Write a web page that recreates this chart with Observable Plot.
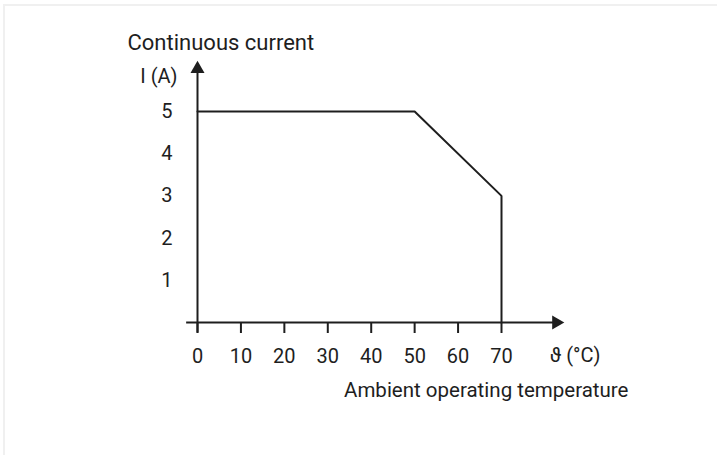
<!DOCTYPE html>
<html>
<head>
<meta charset="utf-8">
<script src="https://cdn.jsdelivr.net/npm/d3@7"></script>
<script src="https://cdn.jsdelivr.net/npm/@observablehq/plot@0.6"></script>
<style>
  html, body { margin: 0; padding: 0; background: #fff; }
  #wrap { position: relative; width: 717px; height: 455px; overflow: hidden; }
  #edge { position: absolute; left: 3px; top: 4px; right: 0; bottom: 0; border-top: 2px solid #f0f0f0; border-left: 2px solid #f0f0f0; pointer-events: none; }
  svg { font-family: Roboto, "Liberation Sans", sans-serif; }
</style>
</head>
<body>
<div id="wrap"><div id="edge"></div></div>
<script>
// Derating curve: continuous current vs ambient temperature
const temperature = [0, 50, 70, 70];
const current     = [5, 5, 3, 0];
const xTicks = [0, 10, 20, 30, 40, 50, 60, 70];
const yTicks = [1, 2, 3, 4, 5];
const xAxisExtent = [-2.5, 84.5];
const yAxisExtent = [-0.25, 6.15];
const yTitle = "Continuous current";
const yUnit = "I (A)";
const xUnit = "ϑ (°C)";
const xTitle = "Ambient operating temperature";

const curve = temperature.map((t, i) => ({t, i: current[i]}));
const ink = "#1e1e1e";
const fs = 20;

const chart = Plot.plot({
  width: 717,
  height: 455,
  marginLeft: 197,
  marginRight: 216,
  marginTop: 111,
  marginBottom: 133,
  style: {fontFamily: "Roboto, 'Liberation Sans', sans-serif", fontSize: fs + "px", color: ink, background: "transparent", overflow: "visible"},
  x: {domain: [0, 70]},
  y: {domain: [0, 5]},
  marks: [
    // axis lines
    Plot.ruleY([0], {x1: xAxisExtent[0], x2: xAxisExtent[1] - 2.2, stroke: ink, strokeWidth: 2}),
    Plot.ruleX([0], {y1: yAxisExtent[0], y2: yAxisExtent[1] - 0.2, stroke: ink, strokeWidth: 2}),
    // arrow heads
    Plot.dot([{x: xAxisExtent[1] - 1.9, y: 0}], {x: "x", y: "y", symbol: "triangle", r: 5.2, rotate: 90, fill: ink, stroke: "none"}),
    Plot.dot([{x: 0, y: yAxisExtent[1] - 0.14}], {x: "x", y: "y", symbol: "triangle", r: 5.2, fill: ink, stroke: "none"}),
    // ticks and tick labels
    Plot.axisX({ticks: xTicks, tickSize: 11, tickPadding: 15, tickFormat: d => String(d), stroke: ink, strokeWidth: 2, strokeOpacity: 1, fill: ink, fontSize: fs, label: null}),
    Plot.axisY({ticks: yTicks, tickSize: 0, tickPadding: 25, tickFormat: d => String(d), fill: ink, fontSize: fs, label: null}),
    // curve
    Plot.line(curve, {x: "t", y: "i", stroke: ink, strokeWidth: 2, strokeLinejoin: "miter"}),
    // titles
    Plot.text([yTitle], {frameAnchor: "top-left", dx: -70, dy: -77, text: d => d, textAnchor: "start", fontSize: 22, fill: ink}),
    Plot.text([yUnit], {frameAnchor: "top-left", dx: -20, dy: -43, text: d => d, textAnchor: "end", fontSize: fs, fill: ink}),
    Plot.text([xUnit], {frameAnchor: "bottom-right", dx: 99, dy: 39, text: d => d, textAnchor: "end", fontSize: fs, fill: ink}),
    Plot.text([xTitle], {frameAnchor: "bottom-right", dx: 127, dy: 74, text: d => d, textAnchor: "end", fontSize: 20.5, fill: ink})
  ]
});
document.getElementById("wrap").prepend(chart);
</script>
</body>
</html>
